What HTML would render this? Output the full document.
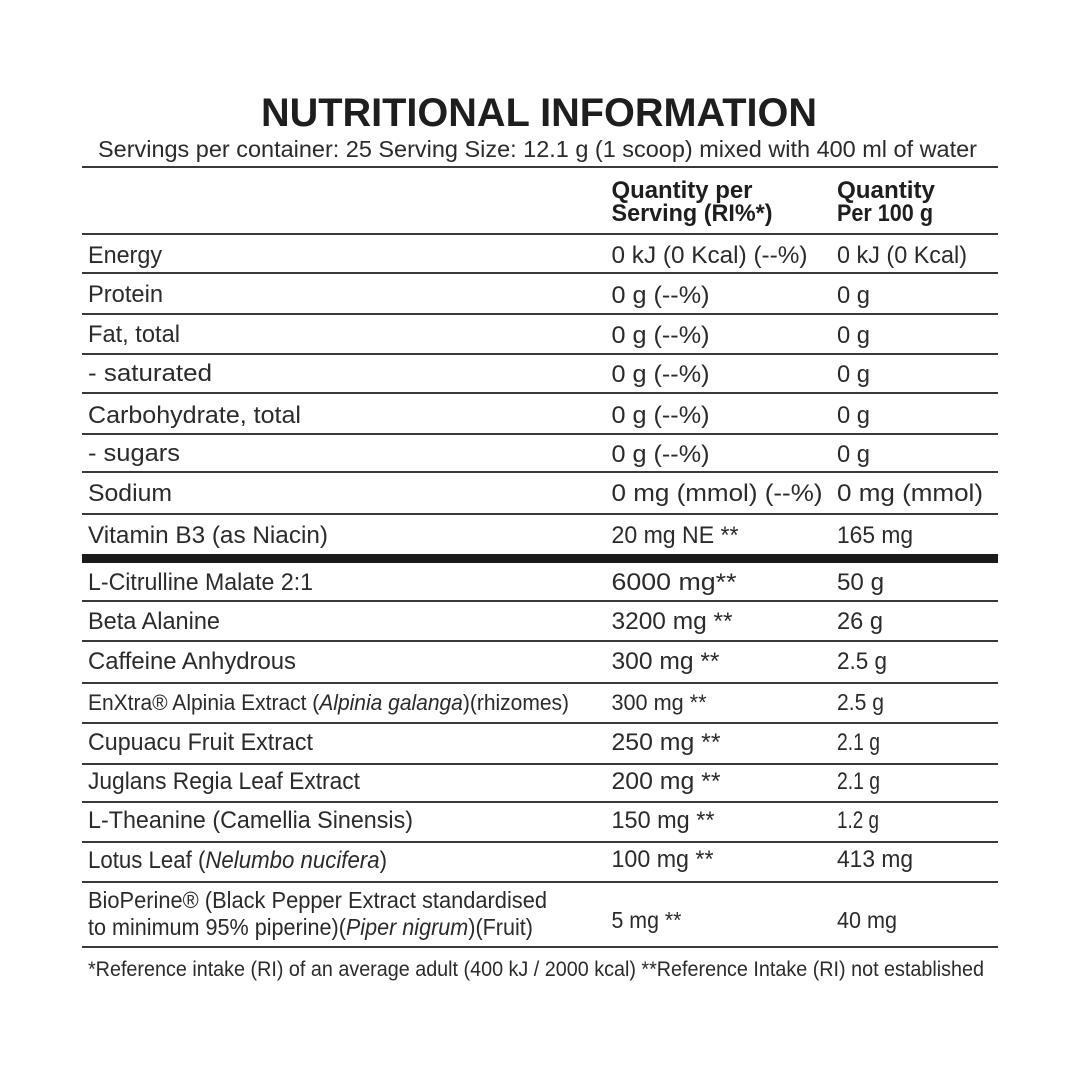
<!DOCTYPE html>
<html>
<head>
<meta charset="utf-8">
<style>
  html,body{margin:0;padding:0;background:#fff;}
  svg{display:block;}
  text{font-family:"Liberation Sans",Arial,sans-serif;fill:#2b2b2b;}
  .b{font-size:24px;}
  .t{font-weight:bold;fill:#1e1e1e;}
  .h{font-weight:bold;font-size:24px;fill:#1e1e1e;}
</style>
</head>
<body>
<svg width="1080" height="1080" viewBox="0 0 1080 1080" xmlns="http://www.w3.org/2000/svg">
  <rect width="1080" height="1080" fill="#fff"/>

  <!-- Title -->
  <text class="t" x="261" y="126" font-size="40" textLength="556" lengthAdjust="spacingAndGlyphs">NUTRITIONAL INFORMATION</text>
  <text x="98" y="157" font-size="23" textLength="879" lengthAdjust="spacingAndGlyphs">Servings per container: 25  Serving Size: 12.1 g (1 scoop) mixed with 400 ml of water</text>

  <!-- lines -->
  <g fill="#3a3a3a">
    <rect x="82" y="166" width="916" height="2"/>
    <rect x="82" y="233" width="916" height="2"/>
    <rect x="82" y="272" width="916" height="2"/>
    <rect x="82" y="313" width="916" height="2"/>
    <rect x="82" y="353" width="916" height="2"/>
    <rect x="82" y="392" width="916" height="2"/>
    <rect x="82" y="433" width="916" height="2"/>
    <rect x="82" y="471" width="916" height="2"/>
    <rect x="82" y="513" width="916" height="2"/>
    <rect x="82" y="600" width="916" height="2"/>
    <rect x="82" y="640" width="916" height="2"/>
    <rect x="82" y="682" width="916" height="2"/>
    <rect x="82" y="722" width="916" height="2"/>
    <rect x="82" y="763" width="916" height="2"/>
    <rect x="82" y="801" width="916" height="2"/>
    <rect x="82" y="841" width="916" height="2"/>
    <rect x="82" y="881" width="916" height="2"/>
    <rect x="82" y="946" width="916" height="2"/>
  </g>
  <rect x="82" y="554" width="916" height="9" fill="#1a1a1a"/>

  <!-- header -->
  <text class="h" x="611.5" y="198" textLength="141" lengthAdjust="spacingAndGlyphs">Quantity per</text>
  <text class="h" x="611.5" y="221" textLength="161" lengthAdjust="spacingAndGlyphs">Serving (RI%*)</text>
  <text class="h" x="837" y="198" textLength="98" lengthAdjust="spacingAndGlyphs">Quantity</text>
  <text class="h" x="837" y="221" textLength="96" lengthAdjust="spacingAndGlyphs">Per 100 g</text>

  <!-- left column -->
  <g class="b">
    <text x="88" y="263" textLength="74" lengthAdjust="spacingAndGlyphs">Energy</text>
    <text x="88" y="302" textLength="75" lengthAdjust="spacingAndGlyphs">Protein</text>
    <text x="88" y="342" textLength="92" lengthAdjust="spacingAndGlyphs">Fat, total</text>
    <text x="88" y="381" textLength="124" lengthAdjust="spacingAndGlyphs">- saturated</text>
    <text x="88" y="423" textLength="213" lengthAdjust="spacingAndGlyphs">Carbohydrate, total</text>
    <text x="88" y="461" textLength="92" lengthAdjust="spacingAndGlyphs">- sugars</text>
    <text x="88" y="501" textLength="84" lengthAdjust="spacingAndGlyphs">Sodium</text>
    <text x="88" y="543" textLength="240" lengthAdjust="spacingAndGlyphs">Vitamin B3 (as Niacin)</text>
    <text x="88" y="590" textLength="225" lengthAdjust="spacingAndGlyphs">L-Citrulline Malate 2:1</text>
    <text x="88" y="629" textLength="132" lengthAdjust="spacingAndGlyphs">Beta Alanine</text>
    <text x="88" y="669" textLength="208" lengthAdjust="spacingAndGlyphs">Caffeine Anhydrous</text>
    <text x="88" y="710" font-size="22" textLength="481" lengthAdjust="spacingAndGlyphs">EnXtra® Alpinia Extract (<tspan font-style="italic">Alpinia galanga</tspan>)(rhizomes)</text>
    <text x="88" y="750" textLength="225" lengthAdjust="spacingAndGlyphs">Cupuacu Fruit Extract</text>
    <text x="88" y="789" textLength="272" lengthAdjust="spacingAndGlyphs">Juglans Regia Leaf Extract</text>
    <text x="88" y="828" textLength="325" lengthAdjust="spacingAndGlyphs">L-Theanine (Camellia Sinensis)</text>
    <text x="88" y="868" textLength="299" lengthAdjust="spacingAndGlyphs">Lotus Leaf (<tspan font-style="italic">Nelumbo nucifera</tspan>)</text>
    <text x="88" y="908" font-size="23" textLength="459" lengthAdjust="spacingAndGlyphs">BioPerine® (Black Pepper Extract standardised</text>
    <text x="88" y="935" font-size="23" textLength="445" lengthAdjust="spacingAndGlyphs">to minimum 95% piperine)(<tspan font-style="italic">Piper nigrum</tspan>)(Fruit)</text>
  </g>

  <!-- column 2 -->
  <g class="b">
    <text x="611.5" y="263" textLength="196" lengthAdjust="spacingAndGlyphs">0 kJ (0 Kcal) (--%)</text>
    <text x="611.5" y="303" textLength="98" lengthAdjust="spacingAndGlyphs">0 g (--%)</text>
    <text x="611.5" y="343" textLength="98" lengthAdjust="spacingAndGlyphs">0 g (--%)</text>
    <text x="611.5" y="382" textLength="98" lengthAdjust="spacingAndGlyphs">0 g (--%)</text>
    <text x="611.5" y="423" textLength="98" lengthAdjust="spacingAndGlyphs">0 g (--%)</text>
    <text x="611.5" y="462" textLength="98" lengthAdjust="spacingAndGlyphs">0 g (--%)</text>
    <text x="611.5" y="501" textLength="211" lengthAdjust="spacingAndGlyphs">0 mg (mmol) (--%)</text>
    <text x="611.5" y="543" textLength="127" lengthAdjust="spacingAndGlyphs">20 mg NE **</text>
    <text x="611.5" y="590" textLength="125" lengthAdjust="spacingAndGlyphs">6000 mg**</text>
    <text x="611.5" y="629" textLength="121" lengthAdjust="spacingAndGlyphs">3200 mg **</text>
    <text x="611.5" y="669" textLength="108" lengthAdjust="spacingAndGlyphs">300 mg **</text>
    <text x="611.5" y="710" font-size="22" textLength="95" lengthAdjust="spacingAndGlyphs">300 mg **</text>
    <text x="611.5" y="750" textLength="109" lengthAdjust="spacingAndGlyphs">250 mg **</text>
    <text x="611.5" y="789" textLength="109" lengthAdjust="spacingAndGlyphs">200 mg **</text>
    <text x="611.5" y="828" textLength="103" lengthAdjust="spacingAndGlyphs">150 mg **</text>
    <text x="611.5" y="867" textLength="102" lengthAdjust="spacingAndGlyphs">100 mg **</text>
    <text x="611.5" y="928" font-size="23" textLength="70" lengthAdjust="spacingAndGlyphs">5 mg **</text>
  </g>

  <!-- column 3 -->
  <g class="b">
    <text x="837" y="263" textLength="130" lengthAdjust="spacingAndGlyphs">0 kJ (0 Kcal)</text>
    <text x="837" y="303" textLength="33" lengthAdjust="spacingAndGlyphs">0 g</text>
    <text x="837" y="343" textLength="33" lengthAdjust="spacingAndGlyphs">0 g</text>
    <text x="837" y="382" textLength="33" lengthAdjust="spacingAndGlyphs">0 g</text>
    <text x="837" y="423" textLength="33" lengthAdjust="spacingAndGlyphs">0 g</text>
    <text x="837" y="462" textLength="33" lengthAdjust="spacingAndGlyphs">0 g</text>
    <text x="837" y="501" textLength="146" lengthAdjust="spacingAndGlyphs">0 mg (mmol)</text>
    <text x="837" y="543" textLength="76" lengthAdjust="spacingAndGlyphs">165 mg</text>
    <text x="837" y="590" textLength="47" lengthAdjust="spacingAndGlyphs">50 g</text>
    <text x="837" y="629" textLength="46" lengthAdjust="spacingAndGlyphs">26 g</text>
    <text x="837" y="669" textLength="50" lengthAdjust="spacingAndGlyphs">2.5 g</text>
    <text x="837" y="710" font-size="23" textLength="47" lengthAdjust="spacingAndGlyphs">2.5 g</text>
    <text x="837" y="750" textLength="43" lengthAdjust="spacingAndGlyphs">2.1 g</text>
    <text x="837" y="789" textLength="43" lengthAdjust="spacingAndGlyphs">2.1 g</text>
    <text x="837" y="828" textLength="42" lengthAdjust="spacingAndGlyphs">1.2 g</text>
    <text x="837" y="867" textLength="76" lengthAdjust="spacingAndGlyphs">413 mg</text>
    <text x="837" y="928" font-size="23" textLength="60" lengthAdjust="spacingAndGlyphs">40 mg</text>
  </g>

  <!-- footer -->
  <text x="88" y="976" font-size="21" textLength="896" lengthAdjust="spacingAndGlyphs">*Reference intake (RI) of an average adult (400 kJ / 2000 kcal) **Reference Intake (RI) not established</text>
</svg>
</body>
</html>
